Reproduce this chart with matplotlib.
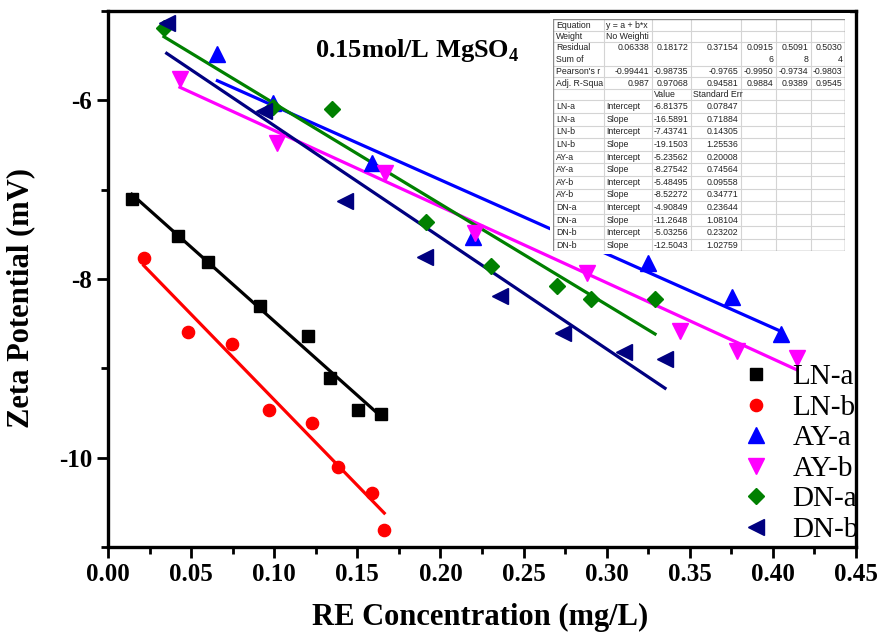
import numpy as np
import matplotlib.pyplot as plt
from matplotlib.ticker import MultipleLocator, FormatStrFormatter
from matplotlib.patches import Rectangle

plt.rcParams['font.family'] = 'Liberation Serif'
plt.rcParams['axes.unicode_minus'] = False
plt.rcParams['mathtext.fontset'] = 'custom'
plt.rcParams['mathtext.rm'] = 'Liberation Serif'
plt.rcParams['mathtext.bf'] = 'Liberation Serif:bold'

# RE concentration (mg/L) vs zeta potential (mV)
ln_a_x = [0.0143, 0.0423, 0.0603, 0.0914, 0.1205, 0.1336, 0.1506, 0.1642]
ln_a_y = [-7.10, -7.52, -7.81, -8.30, -8.64, -9.11, -9.47, -9.51]
ln_b_x = [0.0215, 0.0483, 0.0748, 0.0969, 0.1225, 0.1382, 0.1586, 0.1662]
ln_b_y = [-7.76, -8.59, -8.73, -9.47, -9.61, -10.10, -10.39, -10.81]
ay_a_x = [0.0658, 0.0994, 0.1586, 0.2194, 0.3251, 0.3752, 0.4047]
ay_a_y = [-5.48, -6.03, -6.70, -7.53, -7.82, -8.20, -8.62]
ay_b_x = [0.0433, 0.1015, 0.1666, 0.2208, 0.2884, 0.3441, 0.3782, 0.4143]
ay_b_y = [-5.76, -6.48, -6.81, -7.49, -7.93, -8.58, -8.81, -8.88]
dn_a_x = [0.0337, 0.0994, 0.1346, 0.1913, 0.2302, 0.2703, 0.2904, 0.3291]
dn_a_y = [-5.19, -6.07, -6.10, -7.36, -7.85, -8.08, -8.22, -8.22]
dn_b_x = [0.0353, 0.0940, 0.1426, 0.1907, 0.2358, 0.2735, 0.3104, 0.3351]
dn_b_y = [-5.13, -6.12, -7.13, -7.75, -8.19, -8.60, -8.82, -8.90]

names = ['LN-a', 'LN-b', 'AY-a', 'AY-b', 'DN-a', 'DN-b']

# linear fit results y = a + b*x
intercepts = [-6.81375, -7.43741, -5.23562, -5.48495, -4.90849, -5.03256]
intercept_err = [0.07847, 0.14305, 0.20008, 0.09558, 0.23644, 0.23202]
slopes = [-16.5891, -19.1503, -8.27542, -8.52272, -11.2648, -12.5043]
slope_err = [0.71884, 1.25536, 0.74564, 0.34771, 1.08104, 1.02759]
residual_ss = ['0.06338', '0.18172', '0.37154', '0.0915\n6', '0.5091\n8', '0.5030\n4']
pearson_r = ['-0.99441', '-0.98735', '-0.9765', '-0.9950', '-0.9734', '-0.9803']
adj_r2 = ['0.987', '0.97068', '0.94581', '0.9884', '0.9389', '0.9545']

xs = [ln_a_x, ln_b_x, ay_a_x, ay_b_x, dn_a_x, dn_b_x]
ys = [ln_a_y, ln_b_y, ay_a_y, ay_b_y, dn_a_y, dn_b_y]
colors = ['black', 'red', 'blue', 'magenta', 'green', 'navy']
markers = ['s', 'o', '^', 'v', 'D', '<']
msizes = [8.6, 8.8, 12, 12, 8.5, 11.5]

fig = plt.figure(figsize=(8.93, 6.39), dpi=100)
ax = fig.add_axes([108/893, 1-547/639, 748/893, 536/639])

for x, y, c, m, ms, a, b, nm in zip(xs, ys, colors, markers, msizes, intercepts, slopes, names):
    ax.plot(x, y, linestyle='none', marker=m, color=c, markersize=ms, label=nm, zorder=3)
    xf = np.array([min(x), max(x)])
    ax.plot(xf, a + b*xf, color=c, linewidth=2.3, zorder=2)

ax.set_xlim(0, 0.45)
ax.set_ylim(-11, -5)
ax.xaxis.set_major_locator(MultipleLocator(0.05))
ax.xaxis.set_minor_locator(MultipleLocator(0.025))
ax.xaxis.set_major_formatter(FormatStrFormatter('%.2f'))
ax.yaxis.set_major_locator(MultipleLocator(2))
ax.yaxis.set_minor_locator(MultipleLocator(1))
ax.tick_params(which='both', direction='out', width=2, top=False, right=False)
ax.tick_params(which='major', length=8, labelsize=18)
ax.tick_params(which='minor', length=5)
for lab in ax.get_xticklabels() + ax.get_yticklabels():
    lab.set_fontweight('bold')
for sp in ax.spines.values():
    sp.set_linewidth(2.4)

ax.set_xlabel('RE Concentration (mg/L)', fontsize=22, fontweight='bold')
ax.set_ylabel('Zeta Potential (mV)', fontsize=22, fontweight='bold')
ax.xaxis.set_label_coords(0.497, -0.105)
ax.yaxis.set_label_coords(-0.097, 0.465)

ax.text(0.277, 0.915, r'0.15mol/L MgSO$_\mathbf{4}$', transform=ax.transAxes,
        fontsize=19, fontweight='bold', va='baseline')

ax.legend(loc='lower right', bbox_to_anchor=(1.006, 0.005), frameon=False,
          prop={'size': 21}, handlelength=1.0, handletextpad=0.75,
          labelspacing=0.14, borderaxespad=0.0, borderpad=0.05, numpoints=1)

# fit parameter worksheet
col_edges = [0, 50.7, 98.3, 137.3, 187.7, 222.7, 257.3, 291.7]
row_edges = [0, 11.6, 23.2, 46.4, 58, 69.6, 81.2] + [81.2 + 12.58*(k+1) for k in range(12)]
tw, th = col_edges[-1], row_edges[-1]
tab = fig.add_axes([553.3/893, 1-(19.3+th)/639, tw/893, th/639], zorder=5)
tab.set_xlim(0, tw)
tab.set_ylim(th, 0)
tab.axis('off')
tab.add_patch(Rectangle((-3, -6), tw+8, th+9, facecolor='white', edgecolor='none',
                        clip_on=False, zorder=0))
# the wrapped "Residual Sum of Squares" label runs past its row; hide the overflow
tab.add_patch(Rectangle((0, row_edges[3]), tw, th - row_edges[3], facecolor='white',
                        edgecolor='none', zorder=2))
tab.hlines(row_edges[1:-1], 0, tw, color='#d4d4d4', linewidth=0.8, zorder=3)
tab.vlines(col_edges[1:-1], 0, th, color='#d4d4d4', linewidth=0.8, zorder=3)
tab.add_patch(Rectangle((0, 0), tw, th, facecolor='none', edgecolor='#8c8c8c',
                        linewidth=1.0, zorder=3))

def cell(r, c, s, right=False, multi=False):
    x0, x1 = col_edges[c], col_edges[c+1]
    y0, y1 = row_edges[r], row_edges[r+1]
    xt = x1 - 2.5 if right else x0 + 2.5
    ha = 'right' if right else 'left'
    if multi:
        tab.text(xt, y0 + 0.5, s, ha=ha, va='top', fontsize=6.3, family='Liberation Sans',
                 color='#222222', linespacing=1.45, multialignment=ha, zorder=1)
    else:
        tab.text(xt, (y0+y1)/2, s, ha=ha, va='center', fontsize=6.3,
                 family='Liberation Sans', color='#222222', zorder=4)

cell(0, 0, 'Equation')
cell(0, 1, 'y = a + b*x')
cell(1, 0, 'Weight')
cell(1, 1, 'No Weighti')
cell(2, 0, 'Residual\nSum of\nSquares', multi=True)
cell(3, 0, "Pearson's r")
cell(4, 0, 'Adj. R-Squa')
for i in range(6):
    cell(2, i+1, residual_ss[i], right=True, multi=True)
    cell(3, i+1, pearson_r[i], right=True)
    cell(4, i+1, adj_r2[i], right=True)
cell(5, 2, 'Value')
cell(5, 3, 'Standard Err')
for i, nm in enumerate(names):
    r = 6 + 2*i
    cell(r, 0, nm)
    cell(r, 1, 'Intercept')
    cell(r, 2, '{:g}'.format(intercepts[i]), right=True)
    cell(r, 3, '{:g}'.format(intercept_err[i]), right=True)
    cell(r+1, 0, nm)
    cell(r+1, 1, 'Slope')
    cell(r+1, 2, '{:g}'.format(slopes[i]), right=True)
    cell(r+1, 3, '{:g}'.format(slope_err[i]), right=True)

fig.savefig('out.png', dpi=100)
